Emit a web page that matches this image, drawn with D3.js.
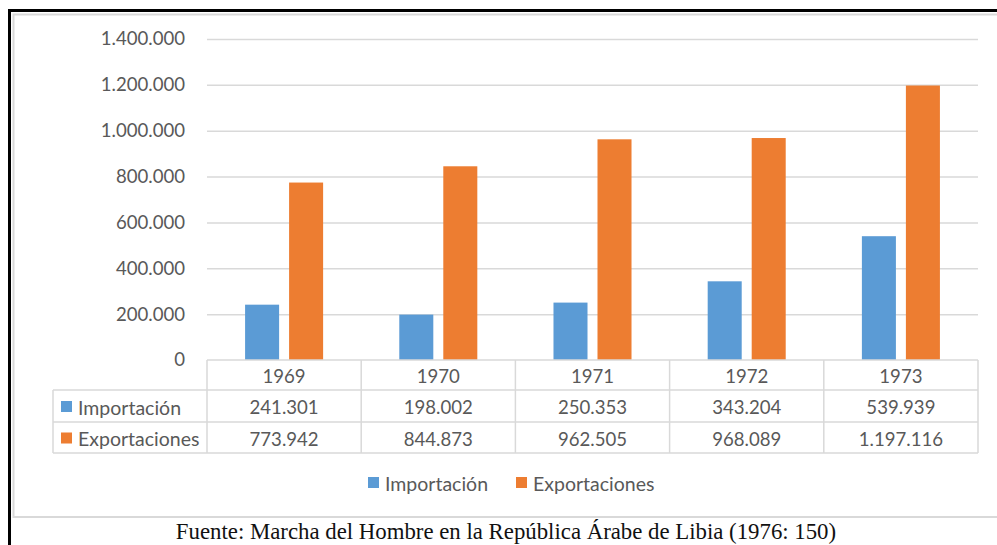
<!DOCTYPE html>
<html>
<head>
<meta charset="utf-8">
<script src="https://cdn.jsdelivr.net/npm/d3@7"></script>
<style>
  body { margin: 0; background: #fff; }
  svg { display: block; }
</style>
</head>
<body>
<svg width="997" height="545"></svg>
<script>
const svg = d3.select("svg");
const width = +svg.attr("width");
const height = +svg.attr("height");

// data
const years = ["1969", "1970", "1971", "1972", "1973"];
const seriesNames = ["Importación", "Exportaciones"];
const importacion = [241301, 198002, 250353, 343204, 539939];
const exportaciones = [773942, 844873, 962505, 968089, 1197116];
const yTicks = [0, 200000, 400000, 600000, 800000, 1000000, 1200000, 1400000];
const sourceText = "Fuente: Marcha del Hombre en la República Árabe de Libia (1976: 150)";

const colors = ["#5B9BD5", "#ED7D31"];
const textColor = "#595959";
const lineColor = "#D9D9D9";
const font = "Lato, 'Open Sans', sans-serif";
const numSize = "18.6px";
const wordSize = "19.5px";

const values = [importacion, exportaciones];
const fmt = d3.formatLocale({ decimal: ",", thousands: ".", grouping: [3], currency: ["", ""] }).format(",d");

// layout
const plotLeft = 207;
const plotRight = 978;
const plotTop = 39;
const plotBottom = 360;
const tableLeft = 53;
const rowY = [360, 390, 422, 453];

// frame
svg.append("rect")
  .attr("x", 13.5).attr("y", 14.5)
  .attr("width", width).attr("height", 517 - 14.5)
  .attr("fill", "#fff")
  .attr("stroke", lineColor)
  .attr("stroke-width", 2);
svg.append("path")
  .attr("d", `M9.5 ${height} L9.5 10.5 L${width} 10.5`)
  .attr("fill", "none")
  .attr("stroke", "#000")
  .attr("stroke-width", 3);

const x0 = d3.scaleBand().domain(years).range([plotLeft, plotRight]);
const bw = x0.bandwidth();
const x1 = d3.scaleBand().domain(seriesNames)
  .range([bw * 0.247, bw * 0.753])
  .paddingInner(0.227);
const y = d3.scaleLinear().domain([0, 1400000]).range([plotBottom, plotTop]);

// gridlines + y labels
const yAxis = svg.append("g")
  .attr("transform", `translate(${plotLeft},0)`)
  .call(d3.axisLeft(y).tickValues(yTicks).tickSize(-(plotRight - plotLeft)).tickPadding(22).tickFormat(fmt));
yAxis.select(".domain").remove();
yAxis.selectAll(".tick line").attr("stroke", lineColor).attr("stroke-width", 1.5);
yAxis.selectAll(".tick text")
  .attr("fill", textColor)
  .style("font-family", font)
  .style("font-size", numSize);
yAxis.selectAll(".tick").filter(d => d === 0).select("line").remove();

// bars
const groups = svg.append("g").selectAll("g")
  .data(years)
  .join("g")
  .attr("transform", d => `translate(${x0(d)},0)`);
groups.selectAll("rect")
  .data((d, i) => seriesNames.map((s, j) => ({ s, j, v: values[j][i] })))
  .join("rect")
  .attr("x", d => x1(d.s))
  .attr("width", x1.bandwidth())
  .attr("y", d => y(d.v))
  .attr("height", d => y(0) - y(d.v))
  .attr("fill", d => colors[d.j]);

// data table
const table = svg.append("g")
  .attr("stroke", lineColor)
  .attr("stroke-width", 1.5)
  .attr("fill", "none");
table.append("line").attr("x1", plotLeft).attr("x2", plotRight).attr("y1", rowY[0]).attr("y2", rowY[0]);
rowY.slice(1).forEach(ry => {
  table.append("line").attr("x1", tableLeft).attr("x2", plotRight).attr("y1", ry).attr("y2", ry);
});
table.append("line").attr("x1", tableLeft).attr("x2", tableLeft).attr("y1", rowY[1]).attr("y2", rowY[3]);
years.forEach(yr => {
  table.append("line").attr("x1", x0(yr)).attr("x2", x0(yr)).attr("y1", rowY[0]).attr("y2", rowY[3]);
});
table.append("line").attr("x1", plotRight).attr("x2", plotRight).attr("y1", rowY[0]).attr("y2", rowY[3]);

const tText = svg.append("g")
  .attr("fill", textColor)
  .style("font-family", font)
  .style("font-size", numSize)
  .attr("text-anchor", "middle")
  .attr("dominant-baseline", "central");
tText.selectAll(".yr")
  .data(years)
  .join("text")
  .attr("x", d => x0(d) + bw / 2)
  .attr("y", (rowY[0] + rowY[1]) / 2 + 1)
  .text(d => d);
values.forEach((vals, j) => {
  tText.selectAll(".v" + j)
    .data(vals)
    .join("text")
    .attr("x", (d, i) => x0(years[i]) + bw / 2)
    .attr("y", (rowY[j + 1] + rowY[j + 2]) / 2 + 1)
    .text(d => fmt(d));
  // row key
  svg.append("rect")
    .attr("x", 61).attr("y", (rowY[j + 1] + rowY[j + 2]) / 2 - 5)
    .attr("width", 11).attr("height", 11)
    .attr("fill", colors[j]);
  svg.append("text")
    .attr("x", 78).attr("y", (rowY[j + 1] + rowY[j + 2]) / 2 + 1)
    .attr("dominant-baseline", "central")
    .attr("fill", textColor)
    .style("font-family", font)
    .style("font-size", wordSize)
    .text(seriesNames[j]);
});

// legend
const legendX = [368, 516];
const legend = svg.append("g").selectAll("g")
  .data(seriesNames)
  .join("g")
  .attr("transform", (d, i) => `translate(${legendX[i]},483)`);
legend.append("rect")
  .attr("x", 0).attr("y", -6)
  .attr("width", 11).attr("height", 11)
  .attr("fill", (d, i) => colors[i]);
legend.append("text")
  .attr("x", 17).attr("y", 0)
  .attr("dominant-baseline", "central")
  .attr("fill", textColor)
  .style("font-family", font)
  .style("font-size", wordSize)
  .text(d => d);

// source
svg.append("text")
  .attr("x", 506).attr("y", 539)
  .attr("text-anchor", "middle")
  .attr("fill", "#111")
  .style("font-family", "'Liberation Serif', 'Times New Roman', serif")
  .style("font-size", "22.8px")
  .text(sourceText);
</script>
</body>
</html>
